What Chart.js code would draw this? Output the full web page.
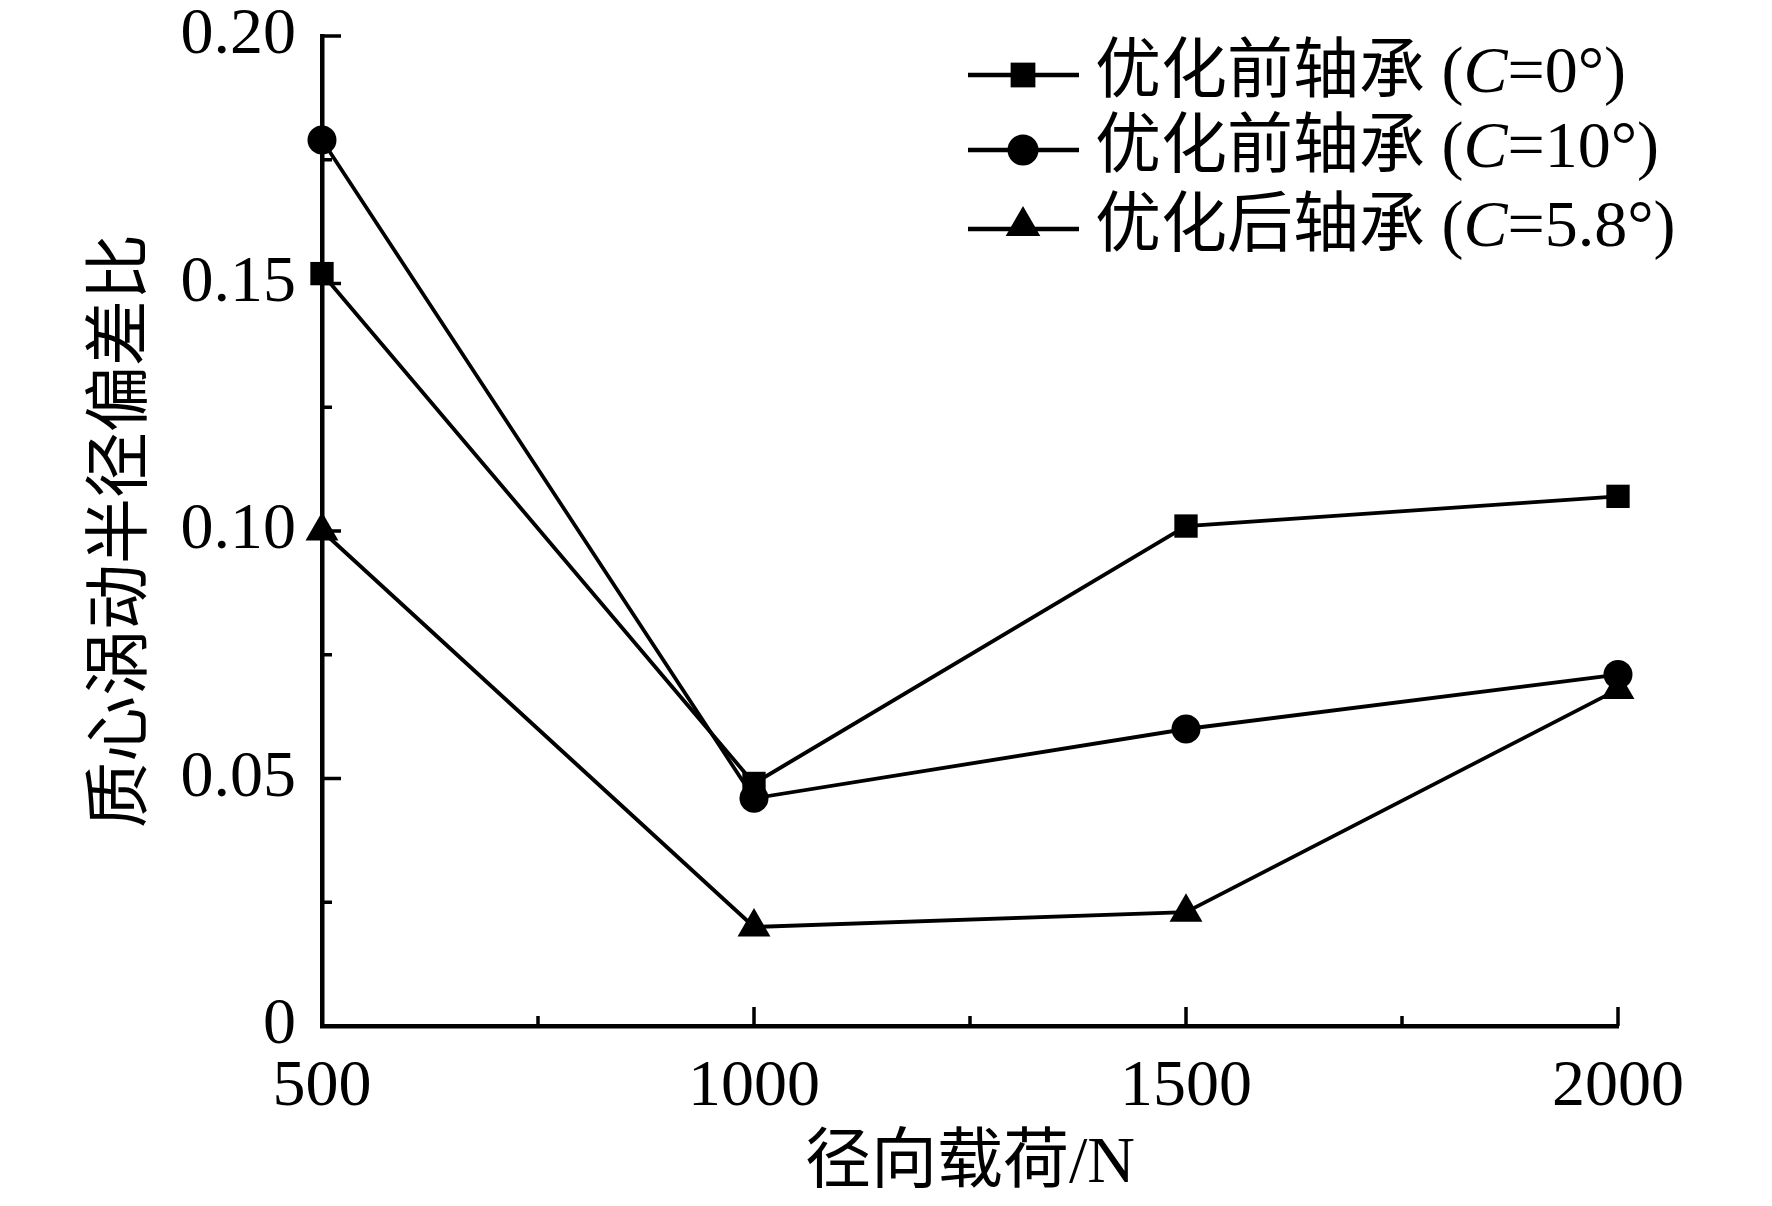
<!DOCTYPE html>
<html>
<head>
<meta charset="utf-8">
<script src="https://cdn.jsdelivr.net/npm/chart.js@4.4.1/dist/chart.umd.min.js"></script>
<style>
  html, body { margin: 0; padding: 0; background: #ffffff; }
  canvas { display: block; }
</style>
</head>
<body>
<canvas id="eccChart" width="1772" height="1206"></canvas>
<script>
// values
const loads = [500, 1000, 1500, 2000];
const beforeC0 = [0.152, 0.049, 0.101, 0.107];
const beforeC10 = [0.179, 0.046, 0.060, 0.071];
const afterC58 = [0.100, 0.020, 0.023, 0.068];
const seriesLabels = ['优化前轴承 (C=0°)', '优化前轴承 (C=10°)', '优化后轴承 (C=5.8°)'];
const seriesMarkers = ['rect', 'circle', 'triangle'];
const xTickValues = [500, 1000, 1500, 2000];
const yTickValues = [0, 0.05, 0.10, 0.15, 0.20];
const xTitle = '径向载荷/N';
const yTitle = '质心涡动半径偏差比';

const FONT = '"Liberation Serif", "Times New Roman", "Noto Sans CJK SC", serif';
const markerRadius = { rect: 16.5, circle: 14.5, triangle: 19 };

const toPoints = arr => loads.map((x, i) => ({ x, y: arr[i] }));

// inward major + minor ticks, drawn from the scales
const innerTicks = {
  id: 'innerTicks',
  afterDraw(chart) {
    const { ctx, scales: { x, y }, chartArea } = chart;
    ctx.save();
    ctx.strokeStyle = '#000';
    ctx.lineWidth = 3.5;
    ctx.beginPath();
    xTickValues.forEach((v, i) => {
      const px = x.getPixelForValue(v);
      ctx.moveTo(px, chartArea.bottom);
      ctx.lineTo(px, chartArea.bottom - 19);
      if (i < xTickValues.length - 1) {
        const mx = x.getPixelForValue((v + xTickValues[i + 1]) / 2);
        ctx.moveTo(mx, chartArea.bottom);
        ctx.lineTo(mx, chartArea.bottom - 10);
      }
    });
    yTickValues.forEach((v, i) => {
      const py = y.getPixelForValue(v);
      ctx.moveTo(chartArea.left, py);
      ctx.lineTo(chartArea.left + 19, py);
      if (i < yTickValues.length - 1) {
        const my = y.getPixelForValue((v + yTickValues[i + 1]) / 2);
        ctx.moveTo(chartArea.left, my);
        ctx.lineTo(chartArea.left + 10, my);
      }
    });
    ctx.stroke();
    ctx.restore();
  }
};

// legend with line-through-marker and italic C
const lineLegend = {
  id: 'lineLegend',
  afterDraw(chart) {
    const { ctx } = chart;
    const x0 = 968, x1 = 1079, mx = 1023, tx = 1095;
    const rows = [75, 150, 229];
    ctx.save();
    chart.data.datasets.forEach((ds, i) => {
      const y = rows[i];
      ctx.strokeStyle = '#000';
      ctx.lineWidth = 4.5;
      ctx.beginPath();
      ctx.moveTo(x0, y);
      ctx.lineTo(x1, y);
      ctx.stroke();
      ctx.fillStyle = '#000';
      Chart.helpers.drawPoint(ctx, {
        pointStyle: ds.pointStyle, radius: ds.pointRadius + 1, rotation: 0, borderWidth: 0
      }, mx, ds.pointStyle === 'triangle' ? y - 3 : y);
      ctx.textBaseline = 'middle';
      ctx.textAlign = 'left';
      let cx = tx;
      ds.label.split(/(C)/).forEach(part => {
        if (!part) return;
        ctx.font = (part === 'C' ? 'italic ' : '') + '66px ' + FONT;
        ctx.fillText(part, cx, y);
        cx += ctx.measureText(part).width;
      });
    });
    ctx.restore();
  }
};

const makeSet = (label, arr, style) => ({
  label,
  data: toPoints(arr),
  borderColor: '#000',
  backgroundColor: '#000',
  borderWidth: 3.8,
  pointStyle: style,
  pointRadius: markerRadius[style],
  pointBorderWidth: 0,
  pointBackgroundColor: '#000',
  tension: 0,
  clip: false
});

new Chart(document.getElementById('eccChart').getContext('2d'), {
  type: 'line',
  data: {
    datasets: [
      makeSet(seriesLabels[0], beforeC0, seriesMarkers[0]),
      makeSet(seriesLabels[1], beforeC10, seriesMarkers[1]),
      makeSet(seriesLabels[2], afterC58, seriesMarkers[2])
    ]
  },
  options: {
    responsive: false,
    devicePixelRatio: 1,
    animation: false,
    layout: { padding: { left: 0, top: 36, right: 154, bottom: 0 } },
    plugins: {
      legend: { display: false },
      tooltip: { enabled: false }
    },
    scales: {
      x: {
        type: 'linear',
        min: 500,
        max: 2000,
        afterBuildTicks: s => { s.ticks = xTickValues.map(v => ({ value: v })); },
        afterFit: s => { s.height = 180; s.paddingLeft = 0; s.paddingRight = 0; },
        grid: { display: false, drawTicks: false },
        border: { display: true, color: '#000', width: 4.5 },
        ticks: {
          color: '#000',
          padding: 22,
          font: { family: FONT, size: 66 },
          callback: v => String(v)
        },
        title: {
          display: true,
          text: xTitle,
          color: '#000',
          font: { family: FONT, size: 66, lineHeight: 1.2 },
          padding: { top: 0, bottom: 2 }
        }
      },
      y: {
        type: 'linear',
        min: 0,
        max: 0.2,
        afterBuildTicks: s => { s.ticks = yTickValues.map(v => ({ value: v })); },
        afterFit: s => { s.width = 322; s.paddingTop = 0; s.paddingBottom = 0; },
        grid: { display: false, drawTicks: false },
        border: { display: true, color: '#000', width: 4.5 },
        ticks: {
          color: '#000',
          padding: 26,
          font: { family: FONT, size: 66 },
          callback: v => (v === 0 ? '0' : v.toFixed(2))
        },
        title: {
          display: true,
          text: yTitle,
          color: '#000',
          font: { family: FONT, size: 66, lineHeight: 1.2 },
          padding: { top: 84, bottom: 0 }
        }
      }
    }
  },
  plugins: [innerTicks, lineLegend]
});
</script>
</body>
</html>
